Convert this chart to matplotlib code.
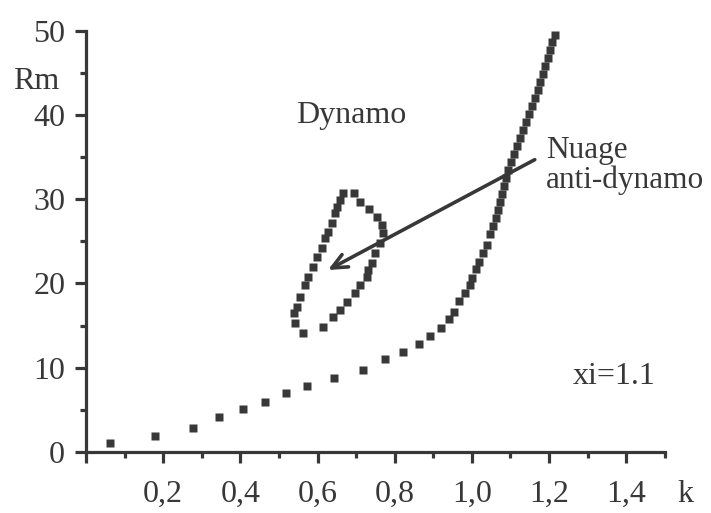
import matplotlib
matplotlib.use('Agg')
import matplotlib.pyplot as plt
from matplotlib.ticker import MultipleLocator, FuncFormatter

ink = '#383838'

# lower branch + upper branch (one curve)
k_curve = [0.062, 0.179, 0.277, 0.345, 0.407, 0.464, 0.518, 0.573, 0.642,
           0.718, 0.775, 0.821, 0.863, 0.891, 0.920, 0.940, 0.953, 0.966,
           0.982, 0.995, 1.000, 1.010, 1.018, 1.028, 1.039, 1.047, 1.054,
           1.062, 1.067, 1.073, 1.078, 1.083, 1.088, 1.093, 1.101, 1.109,
           1.117, 1.124, 1.132, 1.140, 1.148, 1.155, 1.163, 1.171, 1.176,
           1.184, 1.189, 1.197, 1.202, 1.207, 1.215]
rm_curve = [1.07, 1.90, 2.85, 4.16, 5.11, 5.94, 7.01, 7.84, 8.79,
            9.74, 11.05, 11.88, 12.83, 13.78, 14.73, 15.80, 16.63, 17.93,
            18.88, 19.83, 20.67, 21.73, 22.57, 23.63, 24.58, 25.89, 26.84,
            27.79, 28.74, 29.69, 30.64, 31.59, 32.54, 33.49, 34.44, 35.39,
            36.34, 37.29, 38.24, 39.19, 40.14, 41.09, 42.04, 42.99, 43.94,
            44.89, 45.84, 46.79, 47.74, 48.69, 49.52]

# closed loop ("nuage anti-dynamo")
k_loop = [0.562, 0.541, 0.539, 0.547, 0.554, 0.567, 0.575, 0.588, 0.598,
          0.611, 0.619, 0.627, 0.637, 0.645, 0.650, 0.658, 0.666, 0.694,
          0.710, 0.733, 0.754, 0.767, 0.769, 0.762, 0.749, 0.741, 0.731,
          0.728, 0.710, 0.697, 0.676, 0.658, 0.640, 0.614]
rm_loop = [14.13, 15.32, 16.51, 17.22, 18.41, 19.83, 20.78, 21.97, 23.16,
           24.23, 25.42, 26.13, 27.20, 28.38, 29.10, 29.93, 30.76, 30.76,
           29.69, 28.86, 27.91, 26.96, 26.01, 24.82, 23.63, 22.45, 21.62,
           20.78, 19.83, 18.88, 17.81, 16.86, 16.03, 14.85]

arrow_start = (1.163, 34.7)
arrow_tip = (0.627, 21.6)

plt.rcParams['font.family'] = ['Liberation Serif', 'DejaVu Serif']

fig = plt.figure(figsize=(7.11, 5.13), dpi=100)
ax = fig.add_axes([0.121, 0.119, 0.814, 0.821])

ax.plot(k_curve, rm_curve, 's', ms=6.3, color=ink, mec='none')
ax.plot(k_loop, rm_loop, 's', ms=6.3, color=ink, mec='none')

ax.annotate('', xy=arrow_tip, xytext=arrow_start,
            arrowprops=dict(arrowstyle='->,head_length=1.1,head_width=0.5',
                            lw=2.6, color=ink, shrinkA=0, shrinkB=0))

ax.set_xlim(0, 1.5)
ax.set_ylim(0, 50)
for s in ['top', 'right']:
    ax.spines[s].set_visible(False)
for s in ['left', 'bottom']:
    ax.spines[s].set_linewidth(2.3)
    ax.spines[s].set_color(ink)

ax.xaxis.set_major_locator(MultipleLocator(0.2))
ax.xaxis.set_minor_locator(MultipleLocator(0.1))
ax.yaxis.set_major_locator(MultipleLocator(10))
ax.yaxis.set_minor_locator(MultipleLocator(5))
ax.xaxis.set_major_formatter(FuncFormatter(
    lambda v, p: '' if abs(v) < 1e-9 else ('%.1f' % v).replace('.', ',')))
ax.yaxis.set_major_formatter(FuncFormatter(lambda v, p: '%d' % v))
ax.tick_params(which='major', length=8, width=2.3, color=ink,
               labelsize=23, labelcolor=ink)
ax.tick_params(which='minor', length=4, width=2.3, color=ink)
ax.tick_params(axis='x', which='major', pad=12)
ax.tick_params(axis='y', which='major', pad=7)

ax.text(-0.13, 44, 'Rm', fontsize=23, color=ink, ha='center', va='center')
ax.text(1.553, -5.0, 'k', fontsize=23, color=ink, ha='center', va='center')
ax.text(0.686, 40.0, 'Dynamo', fontsize=23, color=ink, ha='center', va='center')
ax.text(1.192, 35.8, 'Nuage', fontsize=22.5, color=ink, ha='left', va='center')
ax.text(1.192, 32.3, 'anti-dynamo', fontsize=22.5, color=ink, ha='left', va='center')
ax.text(1.261, 9.0, 'xi=1.1', fontsize=23, color=ink, ha='left', va='center')

fig.savefig('out.png', dpi=100)
